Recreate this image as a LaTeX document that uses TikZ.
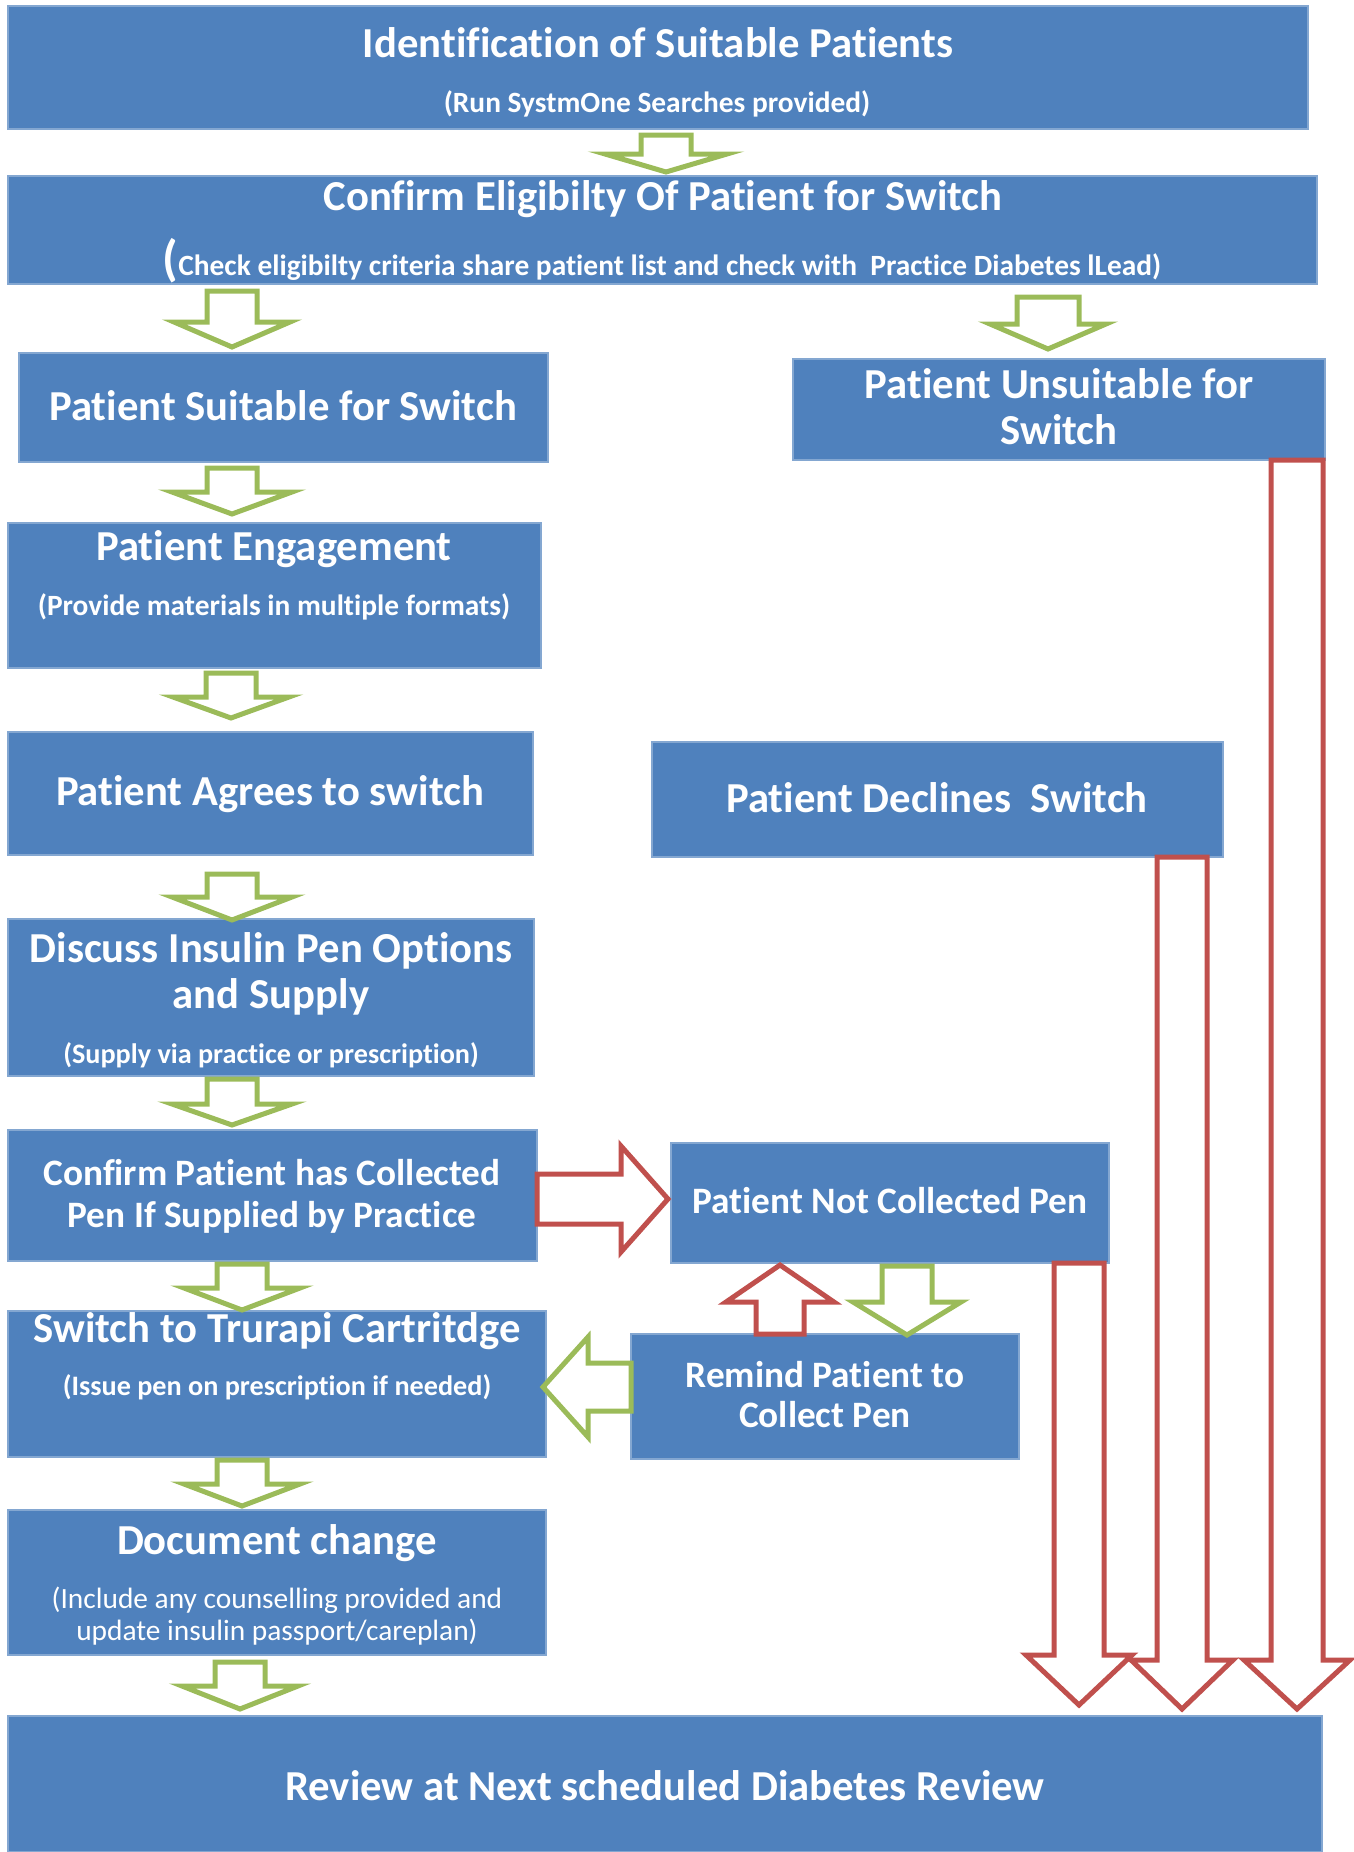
\documentclass[tikz,border=0pt]{standalone}
\usepackage{fontspec}
\setmainfont{Carlito}[RawFeature={-liga;-clig;-dlig}]
\definecolor{boxblue}{HTML}{4F81BD}
\definecolor{agreen}{HTML}{9BBB59}
\definecolor{ared}{HTML}{C0504D}
\tikzset{
  box/.style={fill=boxblue, draw=boxblue!70!white, line width=1.2pt, inner sep=0pt, outer sep=0pt},
  ttl/.style={text=white, font=\fontsize{42.7}{46}\selectfont\bfseries, inner sep=0pt, anchor=base},
  mid/.style={text=white, font=\fontsize{37.3}{42}\selectfont\bfseries, inner sep=0pt, anchor=base},
  sub/.style={text=white, font=\fontsize{29.4}{32}\selectfont\bfseries, inner sep=0pt, anchor=base},
  subs/.style={text=white, font=\fontsize{28.2}{32}\selectfont\bfseries, inner sep=0pt, anchor=base},
  subr/.style={text=white, font=\fontsize{29.4}{32}\selectfont, inner sep=0pt, anchor=base},
  garrow/.style={draw=agreen, line width=5pt},
  rarrow/.style={draw=ared, line width=5pt},
}
% box: name, x1, y1, x2, y2
\newcommand\mkbox[5]{\node[box, minimum width={(#4-#2)*1pt}, minimum height={(#5-#3)*1pt}] (#1) at ({(#2+#4)/2},{(#3+#5)/2}) {};}
% vertical block arrow: style, x, y start, y tip, shaft half, head half, y head base
\newcommand\varrow[7]{\draw[#1] (#2-#5,#3) -- (#2+#5,#3) -- (#2+#5,#7) -- (#2+#6,#7) -- (#2,#4) -- (#2-#6,#7) -- (#2-#5,#7) -- cycle;}
% horizontal block arrow: style, y, x start, x tip, shaft half, head half, x head base
\newcommand\harrow[7]{\draw[#1] (#3,#2-#5) -- (#3,#2+#5) -- (#7,#2+#5) -- (#7,#2+#6) -- (#4,#2) -- (#7,#2-#6) -- (#7,#2-#5) -- cycle;}
\begin{document}
\begin{tikzpicture}[x=1pt, y=-1pt]
\useasboundingbox (0,0) rectangle (1354,1852);
% boxes
\mkbox{b1}{8}{6}{1308}{129}
\mkbox{b2}{8}{176}{1317}{284}
\mkbox{b3}{19}{353}{548}{462}
\mkbox{b4}{793}{359}{1325}{460}
\mkbox{b5}{8}{523}{541}{668}
\mkbox{b6}{8}{732}{533}{855}
\mkbox{b7}{652}{742}{1223}{857}
\mkbox{b8}{8}{919}{534}{1076}
\mkbox{b9}{8}{1130}{537}{1261}
\mkbox{b10}{671}{1143}{1109}{1263}
\mkbox{b11}{8}{1311}{546}{1457}
\mkbox{b12}{631}{1334}{1019}{1459}
\mkbox{b13}{8}{1510}{546}{1655}
\mkbox{b14}{8}{1716}{1322}{1852}
% texts
\node[ttl] (t1a) at (658,58) {Identification of Suitable Patients};
\node[sub] (t1b) at (657,112) {(Run SystmOne Searches provided)};
\node[ttl] (t2a) at (663,210) {Confirm Eligibilty Of Patient for Switch};
\node[sub] (t2b) at (662,275) {{\fontsize{50}{50}\selectfont(}Check eligibilty criteria share patient list and check with \ Practice Diabetes lLead)};
\node[ttl] (t3) at (283,420) {Patient Suitable for Switch};
\node[ttl] (t4a) at (1059,398) {Patient Unsuitable for};
\node[ttl] (t4b) at (1059,444) {Switch};
\node[ttl] (t5a) at (274,560) {Patient Engagement};
\node[sub] (t5b) at (274,615) {(Provide materials in multiple formats)};
\node[ttl] (t6) at (270,805) {Patient Agrees to switch};
\node[ttl] (t7) at (937,812) {Patient Declines \ Switch};
\node[ttl] (t8a) at (271,962) {Discuss Insulin Pen Options};
\node[ttl] (t8b) at (271,1008) {and Supply};
\node[subs] (t8c) at (271,1063) {(Supply via practice or prescription)};
\node[mid] (t9a) at (272,1185) {Confirm Patient has Collected};
\node[mid] (t9b) at (272,1227) {Pen If Supplied by Practice};
\node[mid] (t10) at (890,1213) {Patient Not Collected Pen};
\node[ttl] (t11a) at (277,1342) {Switch to Trurapi Cartritdge};
\node[subs] (t11b) at (277,1395) {(Issue pen on prescription if needed)};
\node[mid] (t12a) at (825,1387) {Remind Patient to};
\node[mid] (t12b) at (825,1427) {Collect Pen};
\node[ttl] (t13a) at (277,1554) {Document change};
\node[subr] (t13b) at (277,1608) {(Include any counselling provided and};
\node[subr] (t13c) at (277,1640) {update insulin passport/careplan)};
\node[ttl] (t14) at (665,1800) {Review at Next scheduled Diabetes Review};
% green arrows
\varrow{garrow}{666}{135}{172}{25}{61}{154}
\varrow{garrow}{232}{291}{347}{25}{58}{322}
\varrow{garrow}{1048}{297}{349}{31}{58}{324}
\varrow{garrow}{232}{468}{514}{25}{60}{492}
\varrow{garrow}{231}{673}{718}{25}{58}{697}
\varrow{garrow}{232}{874}{920}{25}{60}{897}
\varrow{garrow}{232}{1079}{1125}{25}{60}{1104}
\varrow{garrow}{242}{1264}{1310}{25}{58}{1288}
\varrow{garrow}{242}{1460}{1506}{25}{58}{1484}
\varrow{garrow}{240}{1662}{1709}{25}{58}{1686}
\varrow{garrow}{907}{1266}{1335}{25}{54}{1302}
\harrow{garrow}{1387}{631}{543}{24}{50}{588}
% red arrows
\harrow{rarrow}{1199}{537}{668}{25}{53}{621}
\varrow{rarrow}{780}{1334}{1265}{24}{54}{1302}
\varrow{rarrow}{1079}{1263}{1705}{25}{53}{1655}
\varrow{rarrow}{1182}{857}{1709}{25}{51}{1660}
\varrow{rarrow}{1297}{460}{1709}{26}{53}{1660}
\end{tikzpicture}
\end{document}
